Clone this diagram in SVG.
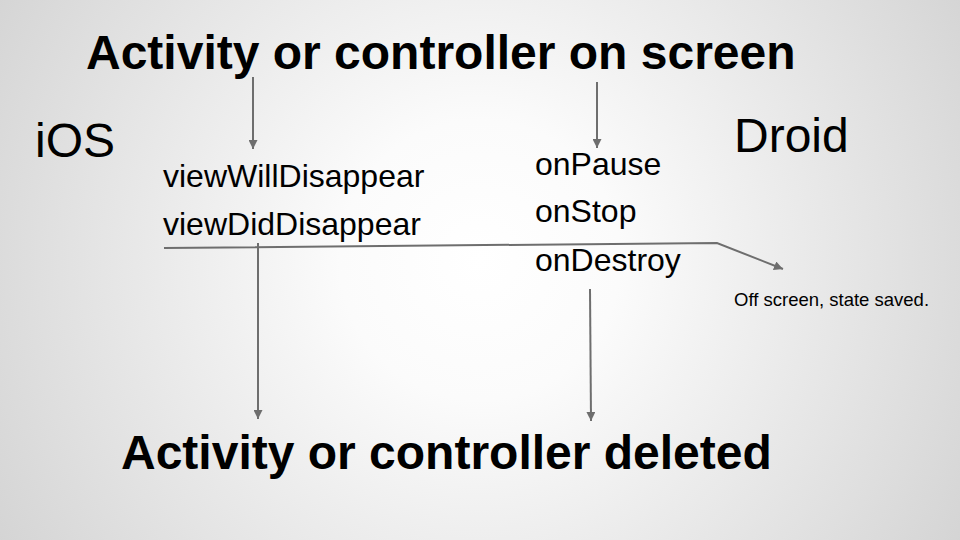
<svg xmlns="http://www.w3.org/2000/svg" width="960" height="540" viewBox="0 0 960 540">
  <defs>
    <radialGradient id="bg" gradientUnits="userSpaceOnUse" cx="480" cy="260" r="560">
      <stop offset="0" stop-color="#ffffff"/>
      <stop offset="0.25" stop-color="#fbfbfb"/>
      <stop offset="1" stop-color="#d4d4d4"/>
    </radialGradient>
    <marker id="arrow" viewBox="0 0 10 10" refX="10" refY="5" markerWidth="4.5" markerHeight="4.5" markerUnits="strokeWidth" orient="auto">
      <path d="M0,0 L10,5 L0,10 z" fill="#6e6e6e"/>
    </marker>
    <style>
      .title { font-family: "Liberation Sans", Arial, sans-serif; font-weight: bold; font-size: 48px; fill: #000; }
      .side { font-family: "Liberation Sans", Arial, sans-serif; font-size: 48px; fill: #000; }
      .method { font-family: "Liberation Sans", Arial, sans-serif; font-size: 32px; fill: #000; }
      .note { font-family: "Liberation Sans", Arial, sans-serif; font-size: 18.5px; fill: #000; }
      .conn { fill: none; stroke: #6e6e6e; stroke-width: 2; marker-end: url(#arrow); }
    </style>
  </defs>
  <rect x="0" y="0" width="960" height="540" fill="url(#bg)"/>

  <g id="on-screen"><text class="title" x="86" y="69">Activity or controller on screen</text></g>
  <g id="deleted"><text class="title" x="121" y="469">Activity or controller deleted</text></g>
  <g id="ios"><text class="side" x="35" y="157">iOS</text></g>
  <g id="droid"><text class="side" x="734" y="152">Droid</text></g>
  <g id="ios-methods">
    <text class="method" x="163" y="187">viewWillDisappear</text>
    <text class="method" x="163" y="235">viewDidDisappear</text>
  </g>
  <g id="droid-methods">
    <text class="method" x="535" y="175">onPause</text>
    <text class="method" x="535" y="222">onStop</text>
    <text class="method" x="535" y="271">onDestroy</text>
  </g>
  <g id="off-screen"><text class="note" x="734" y="306">Off screen, state saved.</text></g>

  <g id="connectors">
    <path class="conn" d="M253,77 L253,149"/>
    <path class="conn" d="M597,82 L597,148"/>
    <path class="conn" d="M164,248 L717,243 L783,269"/>
    <path class="conn" d="M258,243 L258,419"/>
    <path class="conn" d="M590,289 L591,421"/>
  </g>
</svg>
